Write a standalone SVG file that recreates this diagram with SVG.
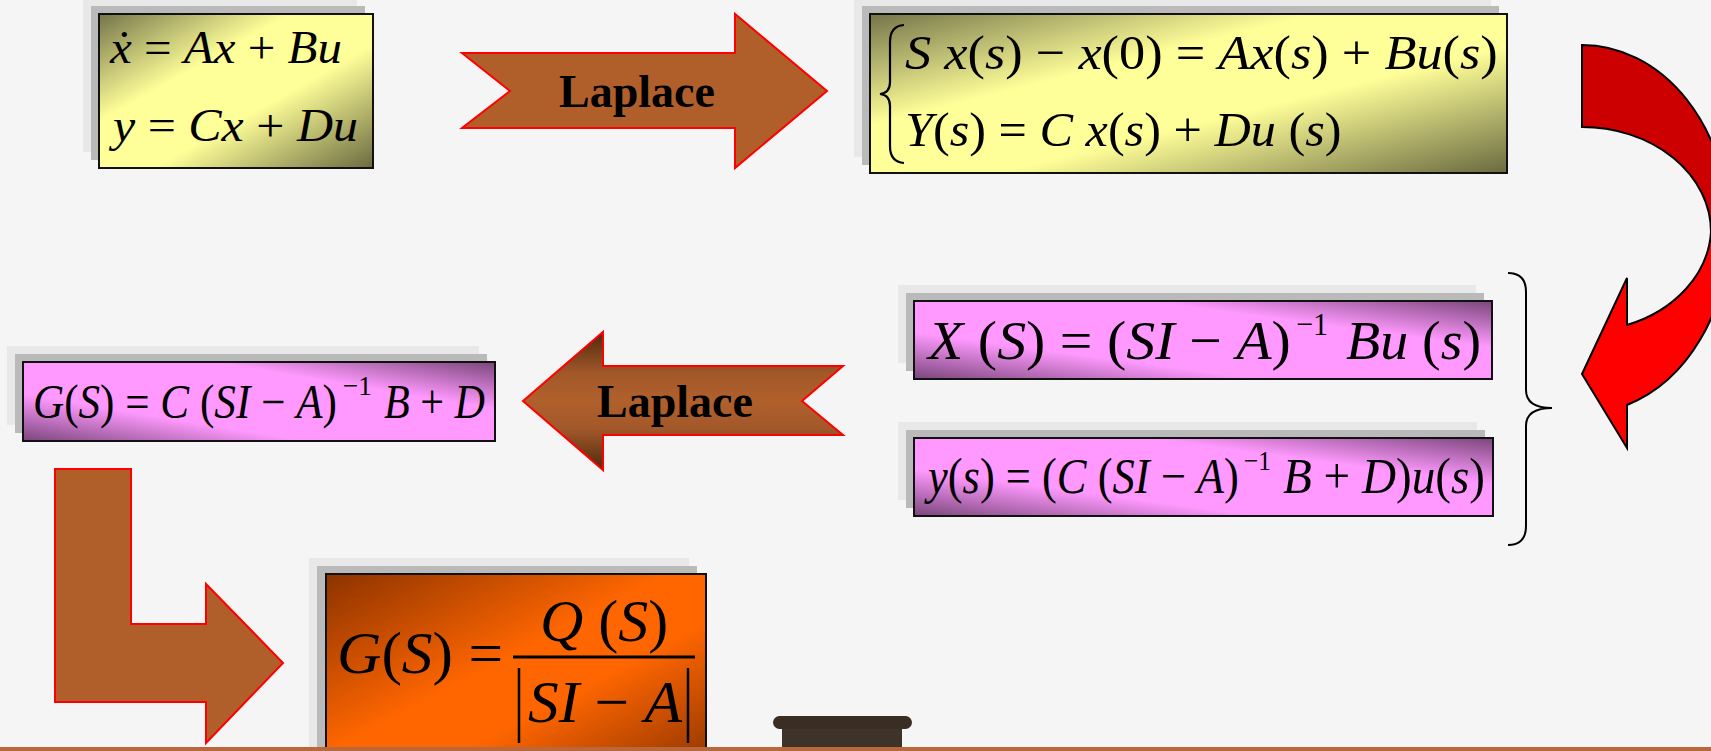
<svg xmlns="http://www.w3.org/2000/svg" width="1711" height="751" viewBox="0 0 1711 751">
<style>
.eq{font-family:"Liberation Serif","Times New Roman","DejaVu Serif",serif;fill:#000}
.i{font-style:italic}
.lap{font-family:"Liberation Serif","Times New Roman",serif;font-weight:bold;fill:#000}
.box{stroke:#111;stroke-width:2}
.sh1{fill:#e8e8e8}
.sh2{fill:#bababa}
.arr{stroke:#ff0000;stroke-width:2;stroke-linejoin:miter}
.cur{stroke:#000;stroke-width:2;stroke-linejoin:miter}
</style>
<defs>
<linearGradient id="gY" x1="0" y1="0" x2="1" y2="1">
<stop offset="0" stop-color="#74744a"/>
<stop offset="0.35" stop-color="#ffff99"/>
<stop offset="0.6" stop-color="#ffff99"/>
<stop offset="1" stop-color="#6a6a40"/>
</linearGradient>
<linearGradient id="gP" x1="0" y1="1" x2="1" y2="0">
<stop offset="0" stop-color="#7a467a"/>
<stop offset="0.3" stop-color="#ff99ff"/>
<stop offset="0.7" stop-color="#ff99ff"/>
<stop offset="1" stop-color="#7a467a"/>
</linearGradient>
<linearGradient id="gO" x1="0" y1="0" x2="1" y2="1">
<stop offset="0" stop-color="#8c3300"/>
<stop offset="0.45" stop-color="#ff6600"/>
<stop offset="0.62" stop-color="#ff6600"/>
<stop offset="1" stop-color="#8c3300"/>
</linearGradient>
<linearGradient id="gB" x1="0" y1="0" x2="0" y2="1">
<stop offset="0" stop-color="#4e2a0e"/>
<stop offset="0.3" stop-color="#a3582a"/>
<stop offset="0.5" stop-color="#b0602c"/>
<stop offset="0.7" stop-color="#a3582a"/>
<stop offset="1" stop-color="#4e2a0e"/>
</linearGradient>
</defs>
<rect x="0" y="0" width="1711" height="751" fill="#f5f5f5"/>

<g id="node-state">
<rect class="sh1" x="83" y="-2" width="274" height="154"/>
<rect class="sh2" x="91" y="6" width="274" height="154"/>
<rect class="box" x="99" y="14" width="274" height="154" fill="url(#gY)"/>
<text class="eq" transform="translate(110,63) scale(1.064,1)" font-size="46"><tspan class="i">ẋ</tspan> = <tspan class="i">Ax</tspan> + <tspan class="i">Bu</tspan></text>
<text class="eq" transform="translate(113,141) scale(1.086,1)" font-size="46"><tspan class="i">y</tspan> = <tspan class="i">Cx</tspan> + <tspan class="i">Du</tspan></text>
</g>

<g id="node-laplace-domain">
<rect class="sh1" x="854" y="-2" width="637" height="159"/>
<rect class="sh2" x="862" y="6" width="637" height="159"/>
<rect class="box" x="870" y="14" width="637" height="159" fill="url(#gY)"/>
<path d="M904,25 Q890,26 890,42 L890,82 Q890,93 880,94 Q890,95 890,106 L890,146 Q890,162 904,163" fill="none" stroke="#000" stroke-width="2.2"/>
<text class="eq" transform="translate(905,69) scale(1.068,1)" font-size="49"><tspan class="i">S x</tspan>(<tspan class="i">s</tspan>) − <tspan class="i">x</tspan>(0) = <tspan class="i">Ax</tspan>(<tspan class="i">s</tspan>) + <tspan class="i">Bu</tspan>(<tspan class="i">s</tspan>)</text>
<text class="eq" transform="translate(905,146) scale(1.026,1)" font-size="49"><tspan class="i">Y</tspan>(<tspan class="i">s</tspan>) = <tspan class="i">C x</tspan>(<tspan class="i">s</tspan>) + <tspan class="i">Du</tspan> (<tspan class="i">s</tspan>)</text>
</g>

<g id="node-xs">
<rect class="sh1" x="898" y="285" width="578" height="78"/>
<rect class="sh2" x="906" y="293" width="578" height="78"/>
<rect class="box" x="914" y="301" width="578" height="78" fill="url(#gP)"/>
<text class="eq" transform="translate(928,359) scale(1.053,1)" font-size="55"><tspan class="i">X</tspan> (<tspan class="i">S</tspan>) = (<tspan class="i">SI</tspan> − <tspan class="i">A</tspan>)</text>
<text class="eq" transform="translate(1296,335) scale(0.94,1)" font-size="32">−1</text>
<text class="eq" transform="translate(1346,359) scale(1.016,1)" font-size="55"><tspan class="i">Bu</tspan> (<tspan class="i">s</tspan>)</text>
</g>

<g id="node-ys">
<rect class="sh1" x="898" y="422" width="579" height="78"/>
<rect class="sh2" x="906" y="430" width="579" height="78"/>
<rect class="box" x="914" y="438" width="579" height="78" fill="url(#gP)"/>
<text class="eq" transform="translate(928,493) scale(0.89,1)" font-size="50"><tspan class="i">y</tspan>(<tspan class="i">s</tspan>) = (<tspan class="i">C</tspan> (<tspan class="i">SI</tspan> − <tspan class="i">A</tspan>)</text>
<text class="eq" transform="translate(1244,470) scale(0.906,1)" font-size="28">−1</text>
<text class="eq" transform="translate(1283,493) scale(0.943,1)" font-size="50"><tspan class="i">B</tspan> + <tspan class="i">D</tspan>)<tspan class="i">u</tspan>(<tspan class="i">s</tspan>)</text>
</g>

<g id="node-gs">
<rect class="sh1" x="7" y="346" width="472" height="79"/>
<rect class="sh2" x="15" y="354" width="472" height="79"/>
<rect class="box" x="23" y="362" width="472" height="79" fill="url(#gP)"/>
<text class="eq" transform="translate(33,418) scale(0.899,1)" font-size="48"><tspan class="i">G</tspan>(<tspan class="i">S</tspan>) = <tspan class="i">C</tspan> (<tspan class="i">SI</tspan> − <tspan class="i">A</tspan>)</text>
<text class="eq" transform="translate(343,395) scale(0.973,1)" font-size="28">−1</text>
<text class="eq" transform="translate(384,418) scale(0.878,1)" font-size="48"><tspan class="i">B</tspan> + <tspan class="i">D</tspan></text>
</g>

<g id="node-result">
<rect class="sh1" x="309" y="558" width="380" height="200"/>
<rect class="sh2" x="317" y="566" width="380" height="200"/>
<rect class="box" x="326" y="574" width="380" height="200" fill="url(#gO)"/>
<text class="eq" transform="translate(337,673) scale(1.024,1)" font-size="60"><tspan class="i">G</tspan>(<tspan class="i">S</tspan>) =</text>
<text class="eq" transform="translate(540,641)" font-size="60"><tspan class="i">Q</tspan> (<tspan class="i">S</tspan>)</text>
<line x1="513" y1="657" x2="695" y2="657" stroke="#000" stroke-width="3"/>
<line x1="519" y1="668" x2="519" y2="743" stroke="#000" stroke-width="2.5"/>
<line x1="688" y1="668" x2="688" y2="743" stroke="#000" stroke-width="2.5"/>
<text class="eq" transform="translate(528,722) scale(1.023,1)" font-size="60"><tspan class="i">SI</tspan> − <tspan class="i">A</tspan></text>
</g>

<g id="connectors">
<g id="arrow-laplace-1">
<polygon class="arr" points="462,53 735,53 735,14 827,91 735,168 735,128 462,128 510,91" fill="#b05f2b"/>
<text class="lap" x="559" y="107" font-size="46">Laplace</text>
</g>
<g id="arrow-curved">
<path class="cur" d="M1582,45 A147,183 0 0 1 1729,232 L1711,232 A129,105 0 0 0 1582,127 Z" fill="#cc0000"/>
<path class="cur" d="M1729,232 A147,183 0 0 1 1627,405 L1627,448 L1582,374 L1627,278 L1627,325 A129,105 0 0 0 1711,232 Z" fill="#ff0000"/>
</g>
<path id="brace-right" d="M1508,273 Q1526,273 1526,292 L1526,390 Q1526,408 1552,408 Q1526,408 1526,426 L1526,526 Q1526,545 1508,545" fill="none" stroke="#000" stroke-width="2"/>
<g id="arrow-laplace-2">
<polygon class="arr" points="523,401 603,332 603,366 843,366 802,401 843,435 603,435 603,470" fill="url(#gB)"/>
<text class="lap" x="597" y="417" font-size="46">Laplace</text>
</g>
<polygon id="arrow-bent" class="arr" points="55,469 131,469 131,624 206,624 206,584 283,663 206,743 206,702 55,702" fill="#b05f2b"/>
</g>

<g id="podium">
<rect x="782" y="721" width="120" height="30" fill="#3d3329"/>
<rect x="773" y="716" width="139" height="13" rx="6.5" fill="#3a2e24"/>
</g>
<rect x="0" y="747" width="1711" height="4" fill="#b8683a"/>
</svg>
